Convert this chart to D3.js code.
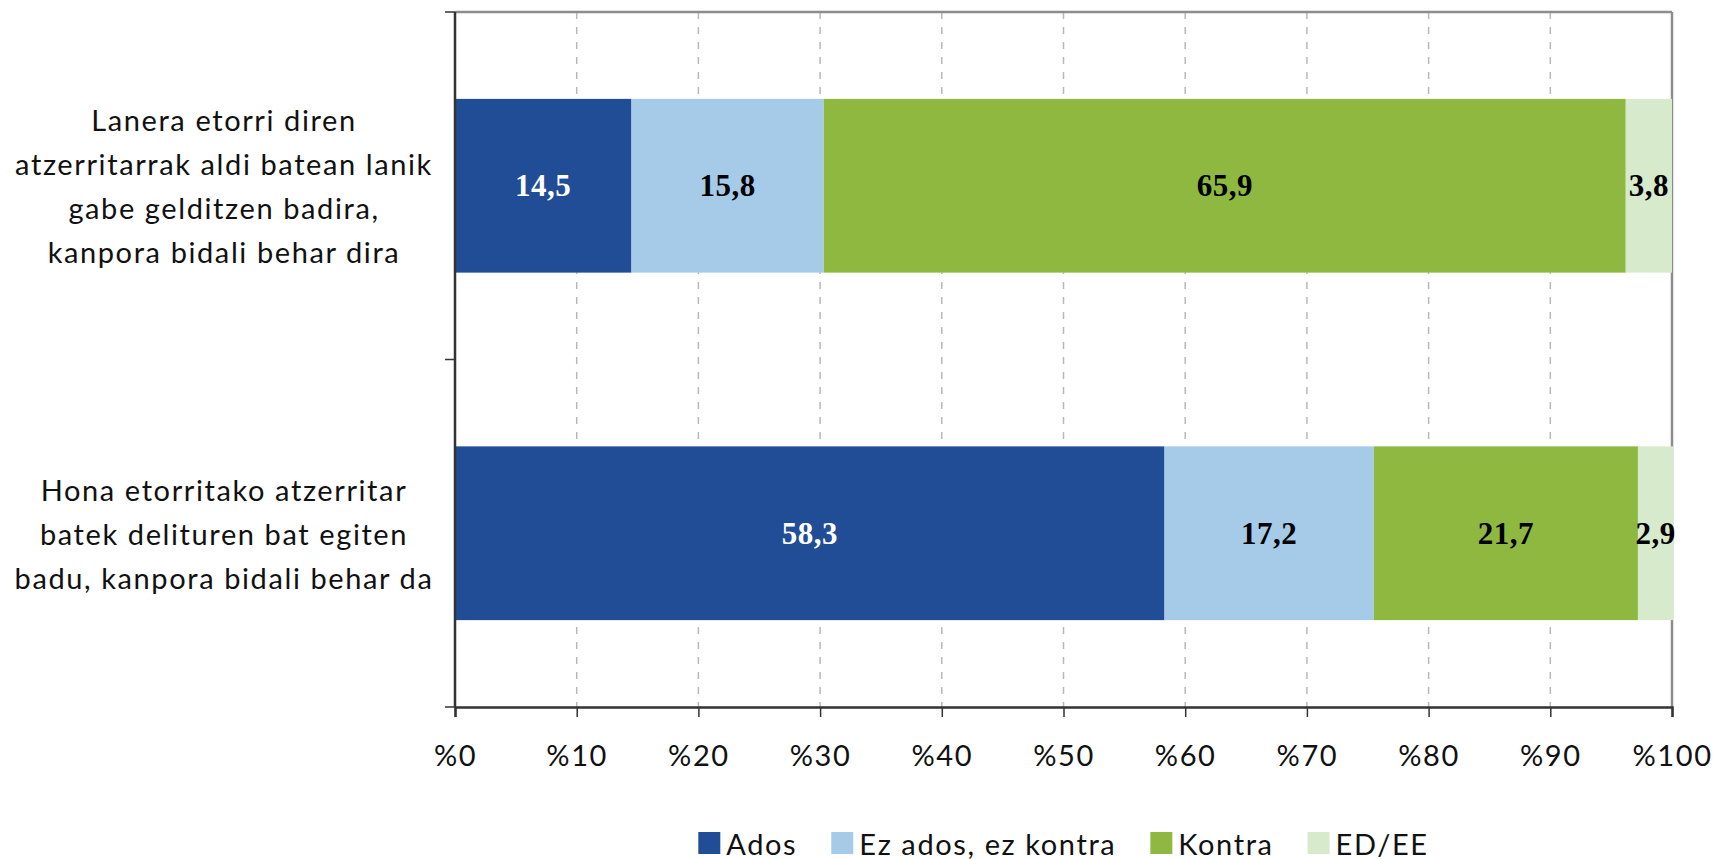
<!DOCTYPE html>
<html>
<head>
<meta charset="utf-8">
<script src="https://cdn.jsdelivr.net/npm/d3@7"></script>
<style>
  body { margin: 0; background: #fff; }
  svg { display: block; }
</style>
</head>
<body>
<div id="chart"></div>
<script>
// data
var categories = [
  ["Lanera etorri diren", "atzerritarrak aldi batean lanik", "gabe gelditzen badira,", "kanpora bidali behar dira"],
  ["Hona etorritako atzerritar", "batek delituren bat egiten", "badu, kanpora bidali behar da"]
];
var seriesNames = ["Ados", "Ez ados, ez kontra", "Kontra", "ED/EE"];
var seriesColors = ["#214C96", "#A6CBE8", "#8EB83F", "#D7EACB"];
var labelColors = ["#fff", "#000", "#000", "#000"];
var ados = [14.5, 58.3];
var ezAdos = [15.8, 17.2];
var kontra = [65.9, 21.7];
var edee = [3.8, 2.9];
var xTicks = [0, 10, 20, 30, 40, 50, 60, 70, 80, 90, 100];

var W = 1717, H = 859;
var margin = {top: 12, right: 45, bottom: 152, left: 455};
var width = W - margin.left - margin.right,
    height = H - margin.top - margin.bottom;

var font = "Lato, sans-serif";
var spacing = "1.6px";

var svg = d3.select("#chart").append("svg")
    .attr("width", W).attr("height", H);
var g = svg.append("g")
    .attr("transform", "translate(" + margin.left + "," + margin.top + ")");

var x = d3.scaleLinear().domain([0, 100]).range([0, width]);
var y = d3.scaleBand().domain([0, 1]).range([0, height]).paddingInner(0.5).paddingOuter(0.25);

// gridlines
g.selectAll(".grid")
  .data(xTicks.slice(1, -1))
  .enter().append("line")
    .attr("x1", function(d) { return x(d); })
    .attr("x2", function(d) { return x(d); })
    .attr("y1", 0).attr("y2", height)
    .style("stroke", "#b8b8b8")
    .style("stroke-width", 1.5)
    .style("stroke-dasharray", "7,8");

// top and right frame
g.append("line").attr("x1", 0).attr("x2", width).attr("y1", 0).attr("y2", 0)
  .style("stroke", "#8c8c8c").style("stroke-width", 2.5);
g.append("line").attr("x1", width).attr("x2", width).attr("y1", 0).attr("y2", height)
  .style("stroke", "#8c8c8c").style("stroke-width", 2.5);

// stacked bars
var series = [ados, ezAdos, kontra, edee];
var stack = [];
series.forEach(function(s, si) {
  s.forEach(function(v, ci) {
    var start = 0;
    for (var k = 0; k < si; k++) start += series[k][ci];
    stack.push({s: si, c: ci, x0: start, x1: start + v, v: v});
  });
});

g.selectAll(".bar")
  .data(stack)
  .enter().append("rect")
    .attr("x", function(d) { return x(d.x0); })
    .attr("width", function(d) { return x(d.x1) - x(d.x0); })
    .attr("y", function(d) { return y(d.c); })
    .attr("height", y.bandwidth())
    .style("fill", function(d) { return seriesColors[d.s]; });

g.selectAll(".vlabel")
  .data(stack)
  .enter().append("text")
    .attr("x", function(d) { return (x(d.x0) + x(d.x1)) / 2; })
    .attr("y", function(d) { return y(d.c) + y.bandwidth() / 2; })
    .attr("text-anchor", "middle")
    .attr("dominant-baseline", "central")
    .style("font-family", "'Liberation Serif', serif")
    .style("font-weight", "bold")
    .style("font-size", "31px")
    .style("letter-spacing", "0.5px")
    .style("fill", function(d) { return labelColors[d.s]; })
    .text(function(d) { return String(d.v.toFixed(1)).replace(".", ","); });

// x axis
var xAxis = g.append("g")
  .attr("transform", "translate(0," + height + ")")
  .call(d3.axisBottom(x).tickValues(xTicks).tickSize(10).tickPadding(28)
    .tickFormat(function(d) { return "%" + d; }));
xAxis.select(".domain").style("stroke", "#333").style("stroke-width", 2.5);
xAxis.selectAll(".tick line").style("stroke", "#333").style("stroke-width", 1.5);
xAxis.selectAll("text")
  .style("font-family", font)
  .style("font-size", "29px")
  .style("letter-spacing", spacing)
  .style("fill", "#111");

// y axis
var yEdges = [0, height / 2, height];
g.append("line").attr("x1", 0).attr("x2", 0).attr("y1", 0).attr("y2", height)
  .style("stroke", "#333").style("stroke-width", 2.5);
g.selectAll(".ytick")
  .data(yEdges)
  .enter().append("line")
    .attr("x1", -10).attr("x2", 0)
    .attr("y1", function(d) { return d; }).attr("y2", function(d) { return d; })
    .style("stroke", "#333").style("stroke-width", 1.5);

// category labels
var lineH = 44;
categories.forEach(function(lines, ci) {
  var cy = y(ci) + y.bandwidth() / 2;
  var t = g.append("text")
    .attr("text-anchor", "middle")
    .style("font-family", font)
    .style("font-size", "29px")
    .style("letter-spacing", spacing)
    .style("fill", "#111");
  lines.forEach(function(l, i) {
    t.append("tspan")
      .attr("x", -231)
      .attr("y", cy + (i - (lines.length - 1) / 2) * lineH)
      .attr("dominant-baseline", "central")
      .text(l);
  });
});

// legend
var legend = svg.append("g");
var sw = 22, gapText = 6, gapItem = 34;
var items = legend.selectAll(".item")
  .data(seriesNames)
  .enter().append("g");
items.append("rect")
  .attr("width", sw).attr("height", sw)
  .attr("y", -sw / 2)
  .style("fill", function(d, i) { return seriesColors[i]; });
items.append("text")
  .attr("x", sw + gapText)
  .attr("dominant-baseline", "central")
  .style("font-family", font)
  .style("font-size", "29px")
  .style("letter-spacing", spacing)
  .style("fill", "#111")
  .text(function(d) { return d; });
var cx = 0;
items.each(function() {
  var el = d3.select(this);
  el.attr("transform", "translate(" + cx + ",0)");
  cx += sw + gapText + el.select("text").node().getComputedTextLength() + gapItem;
});
var total = cx - gapItem;
legend.attr("transform", "translate(" + (margin.left + width / 2 - total / 2) + ",843)");
</script>
</body>
</html>
